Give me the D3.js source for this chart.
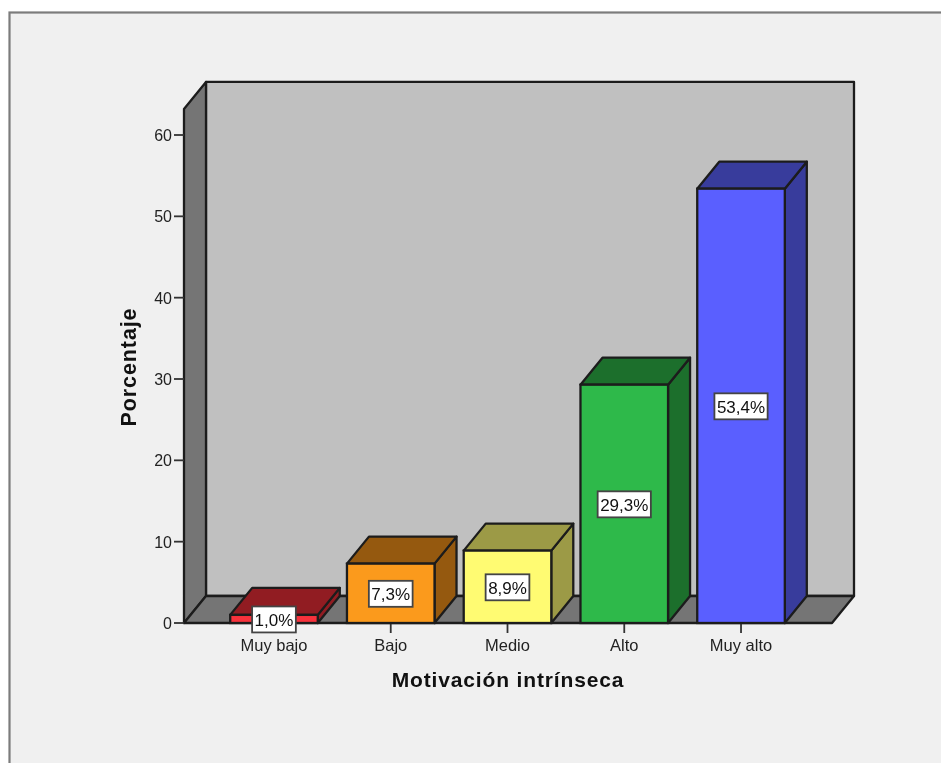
<!DOCTYPE html>
<html><head><meta charset="utf-8">
<style>html,body{margin:0;padding:0;background:#fff}svg{display:block;filter:blur(0.5px)}</style>
<script src="https://cdn.jsdelivr.net/npm/d3@7"></script></head>
<body><script>
const categories = ["Muy bajo","Bajo","Medio","Alto","Muy alto"];
const values = [1.0,7.3,8.9,29.3,53.4];
const valueLabels = ["1,0%","7,3%","8,9%","29,3%","53,4%"];
const frontColors = ["#f8323c","#fb9a1c","#fffb72","#2eb94a","#5a5fff"];
const shadeColors = ["#911c22","#95590f","#9c9a46","#1c6f2c","#383c9c"];
const yTicks = [0,10,20,30,40,50,60];
const yMax = 63.2;

const W=941,H=763;
const svg=d3.select("body").append("svg").attr("width",W).attr("height",H);
const ink="#1c1c1c";
svg.append("rect").attr("x",9.5).attr("y",12.5).attr("width",W+20).attr("height",H+20)
  .attr("fill","#f0f0f0").attr("stroke","#7c7c7c").attr("stroke-width",2.2);

const y=d3.scaleLinear().domain([0,60]).range([623,135]);
const x=d3.scaleBand().domain(categories).range([215.6,799.4]).paddingInner(0.25).paddingOuter(0.125);
const dx=22,dy=-27;
const L=184,R=832,B=y(0),T=y(yMax);

const poly=(pts,fill,sw=2.3)=>svg.append("polygon").attr("points",pts.map(p=>p.join(",")).join(" "))
  .attr("fill",fill).attr("stroke",ink).attr("stroke-width",sw).attr("stroke-linejoin","round");

// walls and floor
poly([[L+dx,T+dy],[R+dx,T+dy],[R+dx,B+dy],[L+dx,B+dy]],"#c0c0c0");
poly([[L,T],[L+dx,T+dy],[L+dx,B+dy],[L,B]],"#757575");
poly([[L,B],[L+dx,B+dy],[R+dx,B+dy],[R,B]],"#757575");

// y axis
const yAxis=svg.append("g").selectAll("g").data(yTicks).join("g");
yAxis.append("line").attr("x1",L-10).attr("x2",L).attr("y1",d=>y(d)).attr("y2",d=>y(d)).attr("stroke","#333").attr("stroke-width",1.8);
yAxis.append("text").attr("x",L-12).attr("y",d=>y(d)+6).attr("text-anchor","end")
  .attr("font-family","Liberation Sans").attr("font-size",16).attr("fill","#222").text(d=>d);

// x ticks and labels
const cx=c=>x(c)+x.bandwidth()/2;
svg.append("g").selectAll("line").data(categories).join("line")
  .attr("x1",cx).attr("x2",cx).attr("y1",B).attr("y2",B+10).attr("stroke","#333").attr("stroke-width",1.8);
svg.append("g").selectAll("text").data(categories).join("text")
  .attr("x",cx).attr("y",B+27.5).attr("text-anchor","middle")
  .attr("font-family","Liberation Sans").attr("font-size",16.5).attr("fill","#222").text(d=>d);

// bars
categories.forEach((c,i)=>{
  const x0=x(c),x1=x0+x.bandwidth(),yt=y(values[i]);
  poly([[x1,yt],[x1+dx,yt+dy],[x1+dx,B+dy],[x1,B]],shadeColors[i]);
  poly([[x0,yt],[x0+dx,yt+dy],[x1+dx,yt+dy],[x1,yt]],shadeColors[i]);
  svg.append("rect").attr("x",x0).attr("y",yt).attr("width",x.bandwidth()).attr("height",B-yt)
    .attr("fill",frontColors[i]).attr("stroke",ink).attr("stroke-width",2.3);
});

// value labels
categories.forEach((c,i)=>{
  const ym=y(values[i]/2)+0.5;
  const g=svg.append("g");
  const t=g.append("text").attr("x",cx(c)).attr("y",ym+6.5).attr("text-anchor","middle")
    .attr("font-family","Liberation Sans").attr("font-size",17).attr("fill","#111").text(valueLabels[i]);
  const w=t.node().getComputedTextLength()+5;
  g.insert("rect","text").attr("x",cx(c)-w/2).attr("y",ym-13).attr("width",w).attr("height",26)
    .attr("fill","#fff").attr("stroke","#444").attr("stroke-width",1.8);
});

// axis titles
svg.append("text").attr("x",508).attr("y",687).attr("text-anchor","middle")
  .attr("font-family","Liberation Sans").attr("font-weight","bold").attr("font-size",21)
  .attr("letter-spacing",0.85).attr("fill","#111").text("Motivación intrínseca");
svg.append("text").attr("transform","translate(136,367) rotate(-90)").attr("text-anchor","middle")
  .attr("font-family","Liberation Sans").attr("font-weight","bold").attr("font-size",21.5)
  .attr("letter-spacing",0.9).attr("fill","#111").text("Porcentaje");
</script></body></html>
